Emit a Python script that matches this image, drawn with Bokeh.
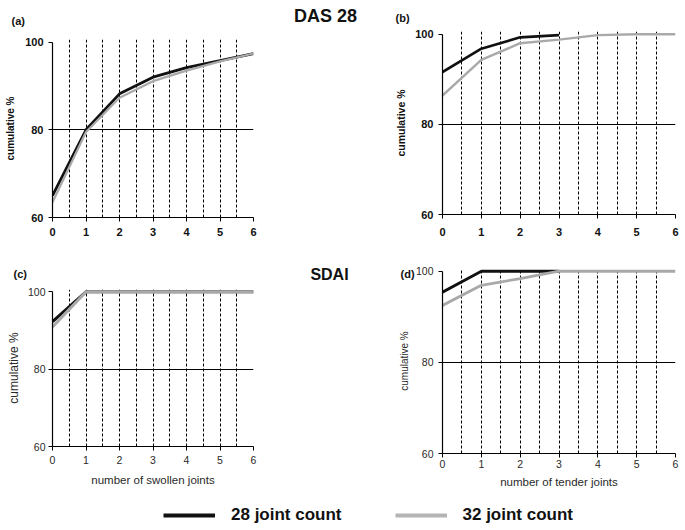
from bokeh.plotting import figure
from bokeh.models import Range1d, FixedTicker, Label, Legend, LegendItem, Title
from bokeh.layouts import row, column
from bokeh.embed import file_html
from bokeh.resources import INLINE

# ---------------- data ----------------
joints = [0, 1, 2, 3, 4, 5, 6]
joints_short = [0, 1, 2, 3]

das_swollen_28 = [65.0, 80.0, 88.2, 92.0, 94.2, 95.8, 97.4]
das_swollen_32 = [63.5, 79.5, 87.3, 91.1, 93.5, 95.6, 97.4]

das_tender_28 = [91.6, 96.8, 99.3, 99.8]
das_tender_32 = [86.4, 94.3, 98.0, 98.8, 99.8, 100.0, 100.0]

sdai_swollen_28 = [92.3, 100.0, 100.0, 100.0, 100.0, 100.0, 100.0]
sdai_swollen_32 = [90.9, 100.0, 100.0, 100.0, 100.0, 100.0, 100.0]

sdai_tender_28 = [95.4, 100.0, 100.0, 100.0]
sdai_tender_32 = [92.5, 96.9, 98.4, 100.0, 100.0, 100.0, 100.0]

x_ticks = [0, 1, 2, 3, 4, 5, 6]
y_ticks = [60, 80, 100]
grid_x = [0.5, 1, 1.5, 2, 2.5, 3, 3.5, 4, 4.5, 5, 5.5]
ref_line = [80]

series_labels = ["28 joint count", "32 joint count"]
panel_tags = ["(a)", "(b)", "(c)", "(d)"]
titles = ["DAS 28", "SDAI"]

# ---------------- style ----------------
FONT = "Liberation Sans"
BLACK = "#111111"
GRAY = "#a9a9a9"
YTOP = 100.6  # small headroom so the 100 % line is not clipped


def make_tag(text, offset, standoff):
    kw = dict(text=text, align="left", offset=offset, text_font=FONT,
              text_font_style="bold", text_font_size="11px",
              text_color="#111111", vertical_align="bottom")
    try:
        return Title(standoff=standoff, **kw)
    except Exception:
        return Title(standoff=max(0, standoff), **kw)


def panel(fx, fy, w, h, px0, px6, py100, py60, bold, tick_fs, lab_fs,
          ylab_standoff, xtick_standoff, tag, tag_left, tag_standoff,
          xlabel=None, xlab_standoff=6, xlab_fs="11.5px", ytick_standoff=5):
    k = (py60 - py100) / 40.0
    top_px = py100 - (YTOP - 100) * k
    t = make_tag(tag, tag_left - px0, tag_standoff)
    p = figure(width=w, height=h, output_backend="svg", toolbar_location=None,
               x_range=Range1d(0, 6), y_range=Range1d(60, YTOP), title=t,
               min_border_left=int(round(px0 - fx)),
               min_border_right=int(round(fx + w - px6)),
               min_border_top=int(round(top_px - fy)),
               min_border_bottom=int(round(fy + h - py60)))
    p.outline_line_color = None
    p.background_fill_color = "white"
    p.border_fill_color = "white"
    style = "bold" if bold else "normal"
    tcol = "#111111" if bold else "#2a2a2a"
    for ax in (p.xaxis[0], p.yaxis[0]):
        ax.axis_line_color = "black"
        ax.axis_line_width = 1.2
        ax.major_tick_line_color = "black"
        ax.major_tick_out = 4
        ax.major_tick_in = 0
        ax.minor_tick_line_color = None
        ax.major_label_text_font = FONT
        ax.major_label_text_font_style = style
        ax.major_label_text_font_size = tick_fs
        ax.major_label_text_color = tcol
        ax.axis_label_text_font = FONT
        ax.axis_label_text_color = tcol
    p.xaxis.ticker = FixedTicker(ticks=x_ticks)
    p.yaxis.ticker = FixedTicker(ticks=y_ticks)
    p.yaxis.bounds = (60, 100)
    p.yaxis.major_label_standoff = ytick_standoff
    p.xaxis.major_label_standoff = xtick_standoff
    p.yaxis.axis_label = "cumulative %"
    p.yaxis.axis_label_text_font_style = style
    p.yaxis.axis_label_text_font_size = lab_fs
    p.yaxis.axis_label_standoff = ylab_standoff
    if xlabel:
        p.xaxis.axis_label = xlabel
        p.xaxis.axis_label_text_font_style = "normal"
        p.xaxis.axis_label_text_font_size = xlab_fs
        p.xaxis.axis_label_standoff = xlab_standoff
    p.xgrid.ticker = FixedTicker(ticks=grid_x)
    p.xgrid.grid_line_color = "black"
    p.xgrid.grid_line_width = 1
    p.xgrid.grid_line_dash = "3 2"
    p.ygrid.ticker = FixedTicker(ticks=ref_line)
    p.ygrid.grid_line_color = "black"
    p.ygrid.grid_line_width = 1
    return p


# column / row placement in the picture (the page has no body margin)
LX, MX, RX = 0, 274, 392
LW, MW, RW = 274, 118, 293
TY, BY, GY = 0, 251, 494
TH, BH, GH = 251, 243, 36

# (a)
pa = panel(LX, TY, LW, TH, 52, 253, 41, 217, True, "11px", "10px",
           ylab_standoff=6, xtick_standoff=6, tag=panel_tags[0],
           tag_left=11, tag_standoff=25)
pa.line(joints, das_swollen_28, line_color=BLACK, line_width=2.8)
pa.line(joints, das_swollen_32, line_color=GRAY, line_width=2.2)

# (b)
pb = panel(RX, TY, RW, TH, 438, 675, 34, 214, True, "11px", "10.5px",
           ylab_standoff=5, xtick_standoff=9, tag=panel_tags[1],
           tag_left=391, tag_standoff=16)
pb.line(joints_short, das_tender_28, line_color=BLACK, line_width=2.6)
pb.line(joints, das_tender_32, line_color=GRAY, line_width=2.4)

# (c)
pc = panel(LX, BY, LW, BH, 47, 268, 291, 446, False, "10.5px", "12px",
           ylab_standoff=4, xtick_standoff=5, tag=panel_tags[2],
           tag_left=8, tag_standoff=20, xlabel="number of swollen joints",
           xlab_standoff=7, ytick_standoff=3)
pc.line(joints, sdai_swollen_28, line_color=BLACK, line_width=3)
pc.line(joints, sdai_swollen_32, line_color=GRAY, line_width=3)

# (d)
pd_ = panel(RX, BY, RW, BH, 439, 675, 271, 453, False, "10.5px", "10px",
            ylab_standoff=3, xtick_standoff=2, tag=panel_tags[3],
            tag_left=397, tag_standoff=-22, xlabel="number of tender joints",
            xlab_standoff=5)
pd_.line(joints_short, sdai_tender_28, line_color=BLACK, line_width=2.8)
pd_.line(joints, sdai_tender_32, line_color=GRAY, line_width=2.8)

# middle strip with the two section titles
MH = TH + BH
mid = figure(width=MW, height=MH, output_backend="svg", toolbar_location=None,
             x_range=Range1d(0, MW), y_range=Range1d(0, MH), min_border=0,
             x_axis_type=None, y_axis_type=None)
mid.outline_line_color = None
mid.xgrid.visible = False
mid.ygrid.visible = False
mid.add_layout(Label(x=325 - MX, y=MH - 5, x_units="screen", y_units="screen",
                     text=titles[0], text_font=FONT, text_font_style="bold",
                     text_font_size="18px", text_align="center", text_baseline="top",
                     text_color="#111111"))
mid.add_layout(Label(x=329 - MX, y=MH - 265, x_units="screen", y_units="screen",
                     text=titles[1], text_font=FONT, text_font_style="bold",
                     text_font_size="16px", text_align="center", text_baseline="top",
                     text_color="#111111"))

# legend strip (its line renderers hold the panel-(a) data, which lies outside
# this strip's 0..1 range, so only the legend glyphs show)
leg = figure(width=LW + MW + RW, height=GH, output_backend="svg", toolbar_location=None,
             x_range=Range1d(0, 1), y_range=Range1d(0, 1), min_border=0,
             x_axis_type=None, y_axis_type=None)
leg.outline_line_color = None
leg.xgrid.visible = False
leg.ygrid.visible = False
r1 = leg.line(joints, das_swollen_28, line_color=BLACK, line_width=4)
r2 = leg.line(joints, das_swollen_32, line_color="#b4b4b4", line_width=4)
legend = Legend(items=[LegendItem(label=series_labels[0], renderers=[r1]),
                       LegendItem(label=series_labels[1], renderers=[r2])],
                orientation="horizontal", location=(163, 5),
                glyph_width=52, glyph_height=16, label_height=16,
                label_standoff=16, spacing=53, padding=0, margin=0,
                border_line_color=None, background_fill_alpha=0,
                label_text_font=FONT, label_text_font_style="bold",
                label_text_font_size="17px", label_text_color="#111111")
leg.add_layout(legend)

layout = column(row(column(pa, pc), mid, column(pb, pd_)), leg)

open("out.html", "w").write(file_html(layout, INLINE))
